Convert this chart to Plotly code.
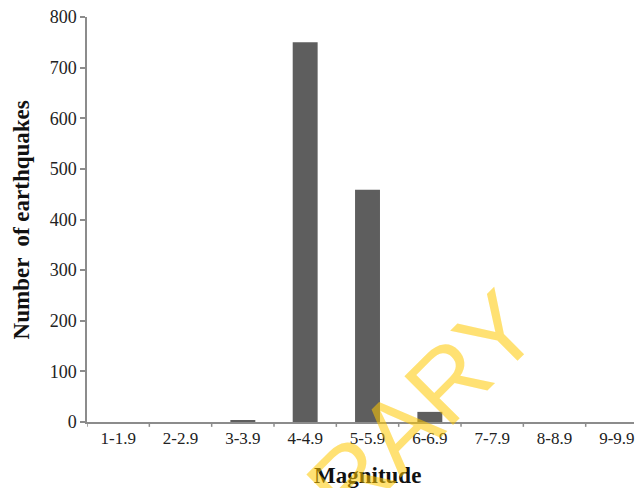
import plotly.graph_objects as go

categories = ["1-1.9", "2-2.9", "3-3.9", "4-4.9", "5-5.9", "6-6.9", "7-7.9", "8-8.9", "9-9.9"]
counts = [0, 0, 3, 750, 459, 20, 0, 0, 0]
y_ticks = [0, 100, 200, 300, 400, 500, 600, 700, 800]

# page has an 8px body margin, so figure coordinates = page coordinates - 8
W, H = 636, 480
left, right, top, bottom = 79, 626, 9, 414

fig = go.Figure()
fig.add_trace(go.Bar(
    x=list(range(len(categories))), y=counts,
    width=0.4,
    marker=dict(color="#5e5e5e", line=dict(width=0)),
    showlegend=False,
))

serif = "Liberation Serif, Times New Roman, serif"
fig.update_layout(
    width=W, height=H,
    margin=dict(l=left, r=W - right, t=top, b=H - bottom, pad=0, autoexpand=False),
    plot_bgcolor="white", paper_bgcolor="white",
    xaxis=dict(
        tickmode="array", tickvals=list(range(len(categories))), ticktext=categories,
        range=[-0.5, 8.275], automargin=False, ticklabeloverflow="allow",
        showline=True, linecolor="#8c8c8c", linewidth=1.5,
        ticks="", showgrid=False, zeroline=False,
        tickfont=dict(family=serif, size=17, color="#222"),
    ),
    yaxis=dict(
        range=[0, 800], tickvals=y_ticks, automargin=False, ticklabeloverflow="allow",
        showline=True, linecolor="#8c8c8c", linewidth=1.5,
        ticks="outside", ticklen=5, tickcolor="#8c8c8c", tickwidth=1.5,
        showgrid=False, zeroline=False,
        tickfont=dict(family=serif, size=18, color="#222"),
    ),
    annotations=[
        dict(text="<b>Magnitude</b>", xref="paper", yref="paper",
             x=0.513, y=-0.133, xanchor="center", yanchor="middle", showarrow=False,
             font=dict(family=serif, size=23, color="#111")),
        dict(text="<b>Number  of earthquakes</b>", xref="paper", yref="paper",
             x=-0.119, y=0.5, xanchor="center", yanchor="middle", showarrow=False,
             textangle=-90, font=dict(family=serif, size=23, color="#111")),
        dict(text="LIBRARY", xref="paper", yref="paper",
             x=0.515, y=-0.094, xanchor="center", yanchor="middle", showarrow=False,
             textangle=-45, font=dict(family="Liberation Sans, Arial, sans-serif", size=100,
                                      color="rgba(255,200,0,0.55)")),
    ],
)

# x-axis boundary tick marks
for i in range(len(categories) + 1):
    fig.add_shape(type="line", xref="x", yref="paper", x0=i - 0.5, x1=i - 0.5,
                  y0=0, y1=-0.012, line=dict(color="#8c8c8c", width=1.5))

fig.write_html("out.html")
